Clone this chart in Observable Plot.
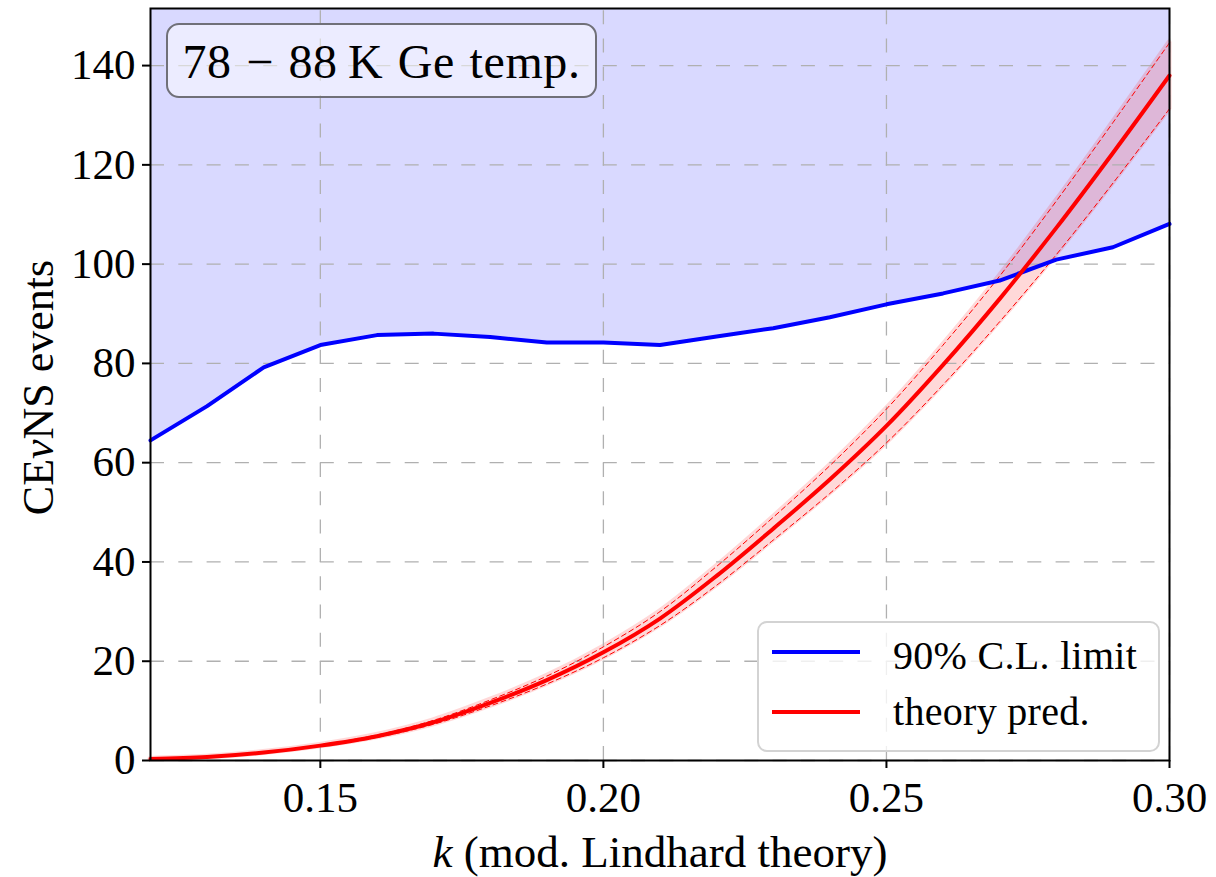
<!DOCTYPE html>
<html><head><meta charset="utf-8">
<script src="https://cdn.jsdelivr.net/npm/d3@7"></script>
<script src="https://cdn.jsdelivr.net/npm/@observablehq/plot@0.6"></script>
<style>
html,body{margin:0;padding:0;background:#fff;}
#wrap{position:relative;width:1216px;height:877px;font-family:"Liberation Serif",serif;overflow:hidden;}
#wrap svg{position:absolute;left:0;top:0;}
.box{position:absolute;box-sizing:border-box;}
.lab{position:absolute;white-space:nowrap;font-size:40px;line-height:40px;color:#000;letter-spacing:0.3px;}
.key{position:absolute;height:4px;width:88px;}
</style></head><body><div id="wrap"></div>
<script>
// ---- data ----
const kValues      = [0.12, 0.13, 0.14, 0.15, 0.16, 0.17, 0.18, 0.19, 0.20, 0.21, 0.22, 0.23, 0.24, 0.25, 0.26, 0.27, 0.28, 0.29, 0.30];
const limitEvents  = [64.5, 71.4, 79.2, 83.7, 85.7, 86.0, 85.3, 84.2, 84.2, 83.7, 85.4, 87.1, 89.3, 91.9, 94.1, 96.7, 100.9, 103.4, 108.1];
const theoryEvents = [0.3, 0.7, 1.6, 3.0, 4.9, 7.7, 11.6, 16.2, 21.8, 28.6, 37.2, 46.7, 56.6, 67.4, 79.7, 93.0, 107.3, 122.4, 138.0];
const theoryLow    = [0.28, 0.66, 1.5, 2.85, 4.65, 7.3, 11.0, 15.4, 20.7, 27.2, 35.3, 44.4, 53.8, 64.0, 75.7, 88.4, 101.9, 116.3, 131.3];
const theoryHigh   = [0.32, 0.74, 1.7, 3.15, 5.15, 8.1, 12.2, 17.0, 22.9, 30.0, 39.1, 49.0, 59.4, 70.8, 83.7, 97.6, 112.7, 128.5, 144.6];
const xTicks = [0.15, 0.20, 0.25, 0.30];
const yTicks = [0, 20, 40, 60, 80, 100, 120, 140];
const xDomain = [0.12, 0.30];
const yDomain = [0, 151.5];
const seriesNames = ["90% C.L. limit", "theory pred."];
const boxTitle = "78 \u2212 88\u2009K Ge temp.";
const xLabel = "k (mod. Lindhard theory)";
const yLabel = "CE\u03bdNS events";

const rows = kValues.map((k, i) => ({k, limit: limitEvents[i], theory: theoryEvents[i], lo: theoryLow[i], hi: theoryHigh[i]}));
const yTop = yDomain[1];

const gridStyle = {stroke: "#b0b0b0", strokeWidth: 1.3, strokeDasharray: "14,14.3"};

const chart = Plot.plot({
  width: 1216,
  height: 877,
  marginLeft: 150,
  marginRight: 47,
  marginTop: 8,
  marginBottom: 117,
  style: {fontFamily: "'Liberation Serif', serif", background: "white", color: "black"},
  x: {domain: xDomain},
  y: {domain: yDomain},
  marks: [
    // excluded region above limit
    Plot.areaY(rows, {x: "k", y1: "limit", y2: yTop, fill: "blue", fillOpacity: 0.15}),
    // theory band (fill + same-colour edge, composited as one element)
    Plot.areaY(rows, {x: "k", y1: "lo", y2: "hi", curve: "catmull-rom", fill: "red", stroke: "red", strokeWidth: 5, opacity: 0.15}),
    // grid
    Plot.ruleY(yTicks, {y: d => d, ...gridStyle}),
    Plot.ruleX(xTicks, {x: d => d, y1: yDomain[0], y2: yTop, ...gridStyle}),
    // band edges
    Plot.lineY(rows, {x: "k", y: "lo", curve: "catmull-rom", stroke: "red", strokeWidth: 1, strokeDasharray: "5,3.5"}),
    Plot.lineY(rows, {x: "k", y: "hi", curve: "catmull-rom", stroke: "red", strokeWidth: 1, strokeDasharray: "5,3.5"}),
    // lines
    Plot.lineY(rows, {x: "k", y: "limit", stroke: "blue", strokeWidth: 4}),
    Plot.lineY(rows, {x: "k", y: "theory", curve: "catmull-rom", stroke: "red", strokeWidth: 4}),
    // axes
    Plot.axisX(xTicks, {tickSize: 8, tickPadding: 13, strokeWidth: 2, fontSize: 43, tickFormat: d3.format(".2f"), label: null}),
    Plot.axisY(yTicks, {tickSize: 8, tickPadding: 7, strokeWidth: 2, fontSize: 43, label: null}),
    Plot.text([xLabel], {frameAnchor: "bottom", text: d => d, dy: 106, fontSize: 45, lineAnchor: "bottom", textAnchor: "middle"}),
    Plot.text([yLabel], {frameAnchor: "left", text: d => d, dx: -98, dy: 3, rotate: -90, fontSize: 44, lineAnchor: "bottom", textAnchor: "middle"}),
    Plot.frame({stroke: "black", strokeWidth: 2})
  ]
});

// italic math symbols in labels
chart.querySelectorAll("text").forEach(t => {
  if (t.textContent === yLabel) {
    t.innerHTML = 'CE<tspan font-style="italic">\u03bd</tspan>NS events';
  } else if (t.textContent === xLabel) {
    t.innerHTML = '<tspan font-style="italic">k</tspan> (mod. Lindhard theory)';
  }
});

const wrap = document.getElementById("wrap");
wrap.appendChild(chart);

// title box
const tb = document.createElement("div");
tb.className = "box";
Object.assign(tb.style, {left: "166px", top: "23px", width: "431px", height: "75px", border: "2.5px solid #707078",
  borderRadius: "13px", background: "rgba(255,255,255,0.5)", fontSize: "48px", lineHeight: "70px", paddingTop: "2px",
  textAlign: "center", whiteSpace: "nowrap", letterSpacing: "0.6px", wordSpacing: "2px"});
tb.textContent = boxTitle;
wrap.appendChild(tb);

// legend
const lg = document.createElement("div");
lg.className = "box";
Object.assign(lg.style, {left: "757px", top: "621px", width: "403px", height: "131px", border: "2px solid #d3d3d3",
  borderRadius: "10px", background: "rgba(255,255,255,0.8)"});
const colors = ["blue", "red"];
seriesNames.forEach((name, i) => {
  const key = document.createElement("div");
  key.className = "key";
  Object.assign(key.style, {left: "13px", top: (27 + i * 60) + "px", background: colors[i]});
  lg.appendChild(key);
  const lab = document.createElement("div");
  lab.className = "lab";
  Object.assign(lab.style, {left: "134px", top: (13 + i * 56) + "px"});
  lab.textContent = name;
  lg.appendChild(lab);
});
wrap.appendChild(lg);
</script>
</body></html>
